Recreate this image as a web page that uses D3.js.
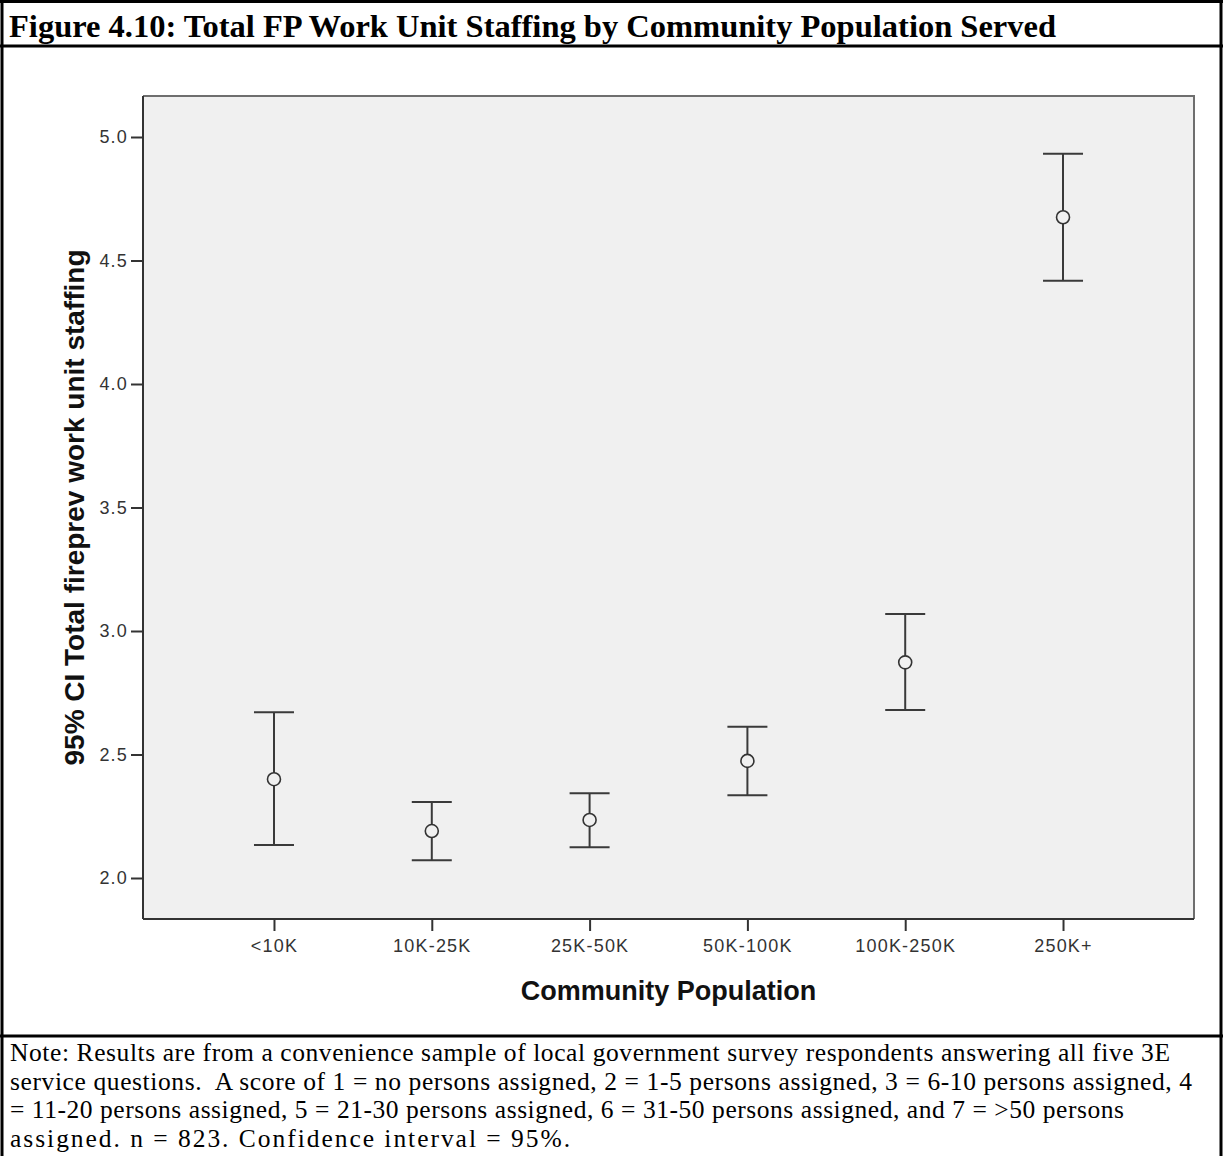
<!DOCTYPE html>
<html>
<head>
<meta charset="utf-8">
<script src="https://cdn.jsdelivr.net/npm/d3@7"></script>
<style>
  body { margin: 0; background: #fff; }
  svg { display: block; }
</style>
</head>
<body>
<script>
// Figure 4.10 - error bar chart (95% CI), one bar per population group

var categories = ["<10K", "10K-25K", "25K-50K", "50K-100K", "100K-250K", "250K+"];
var means = [2.40, 2.19, 2.235, 2.474, 2.873, 4.675];
var lower = [2.134, 2.072, 2.124, 2.335, 2.680, 4.418];
var upper = [2.671, 2.308, 2.343, 2.612, 3.069, 4.932];
var yTicks = [2.0, 2.5, 3.0, 3.5, 4.0, 4.5, 5.0];

var title = "Figure 4.10: Total FP Work Unit Staffing by Community Population Served";
var noteLines = [
  "Note: Results are from a convenience sample of local government survey respondents answering all five 3E",
  "service questions.\u00a0 A score of 1 = no persons assigned, 2 = 1-5 persons assigned, 3 = 6-10 persons assigned, 4",
  "= 11-20 persons assigned, 5 = 21-30 persons assigned, 6 = 31-50 persons assigned, and 7 = >50 persons",
  "assigned. n = 823. Confidence interval = 95%."
];
// line widths as set in the source document
var noteWidths = [1160, 1182, 1114, 560];

var width = 1223,
    height = 1156,
    plot = {left: 143, right: 1194, top: 96, bottom: 919};

var svg = d3.select("body").append("svg")
    .attr("width", width)
    .attr("height", height);

// outer table frame
svg.append("rect").attr("width", width).attr("height", height).attr("fill", "#fff");
[[2, 0, 2, height], [1221, 0, 1221, height], [0, 1.5, width, 1.5], [0, 46, width, 46], [0, 1036, width, 1036]]
  .forEach(function(l) {
    svg.append("line")
      .attr("x1", l[0]).attr("y1", l[1]).attr("x2", l[2]).attr("y2", l[3])
      .attr("stroke", "#000").attr("stroke-width", 3);
  });

svg.append("text")
    .attr("x", 9).attr("y", 37)
    .style("font-family", "'Liberation Serif', 'Times New Roman', serif")
    .style("font-weight", "bold")
    .style("font-size", "32.5px")
    .text(title);

var x = d3.scalePoint()
    .domain(categories)
    .range([plot.left, plot.right])
    .padding(0.83);

var y = d3.scaleLinear()
    .domain([1.834, 5.166])
    .range([plot.bottom, plot.top]);

// plot background + top/right frame
svg.append("rect")
    .attr("x", plot.left).attr("y", plot.top)
    .attr("width", plot.right - plot.left).attr("height", plot.bottom - plot.top)
    .attr("fill", "#f0f0f0");
svg.append("path")
    .attr("d", "M" + plot.left + "," + plot.top + "H" + plot.right + "V" + plot.bottom)
    .attr("fill", "none").attr("stroke", "#6e6e6e").attr("stroke-width", 2);

var tickFont = "'Liberation Sans', Arial, sans-serif";

var yAxis = svg.append("g")
    .attr("transform", "translate(" + plot.left + ",0)")
    .call(d3.axisLeft(y).tickValues(yTicks).tickFormat(d3.format(".1f")).tickSize(12).tickPadding(3));

var xAxis = svg.append("g")
    .attr("transform", "translate(0," + plot.bottom + ")")
    .call(d3.axisBottom(x).tickSize(12).tickPadding(8));

[yAxis, xAxis].forEach(function(ax) {
  ax.select(".domain").attr("stroke", "#333").attr("stroke-width", 2);
  ax.selectAll(".tick line").attr("stroke", "#333").attr("stroke-width", 2);
  ax.selectAll(".tick text")
    .attr("fill", "#333")
    .style("font-family", tickFont)
    .style("font-size", "18px")
    .style("letter-spacing", "1.2px");
});
yAxis.select(".domain").attr("d", "M0," + plot.top + "V" + plot.bottom);
xAxis.select(".domain").attr("d", "M" + plot.left + ",0H" + plot.right);

// error bars
var bars = svg.append("g").selectAll("g")
    .data(categories)
    .enter().append("g")
    .attr("transform", function(d) { return "translate(" + x(d) + ",0)"; });

bars.append("line")
    .attr("y1", function(d, i) { return y(upper[i]); })
    .attr("y2", function(d, i) { return y(lower[i]); })
    .attr("stroke", "#3a3a3a").attr("stroke-width", 2);

bars.append("line")
    .attr("x1", -20).attr("x2", 20)
    .attr("y1", function(d, i) { return y(upper[i]); })
    .attr("y2", function(d, i) { return y(upper[i]); })
    .attr("stroke", "#3a3a3a").attr("stroke-width", 2);

bars.append("line")
    .attr("x1", -20).attr("x2", 20)
    .attr("y1", function(d, i) { return y(lower[i]); })
    .attr("y2", function(d, i) { return y(lower[i]); })
    .attr("stroke", "#3a3a3a").attr("stroke-width", 2);

bars.append("circle")
    .attr("cy", function(d, i) { return y(means[i]); })
    .attr("r", 6.5)
    .attr("fill", "#f0f0f0")
    .attr("stroke", "#333").attr("stroke-width", 1.6);

// axis titles
svg.append("text")
    .attr("transform", "translate(84," + (plot.top + plot.bottom) / 2 + ") rotate(-90)")
    .attr("text-anchor", "middle")
    .style("font-family", tickFont)
    .style("font-weight", "bold")
    .style("font-size", "28px")
    .attr("fill", "#111")
    .text("95% CI Total fireprev work unit staffing");

svg.append("text")
    .attr("x", (plot.left + plot.right) / 2).attr("y", 1000)
    .attr("text-anchor", "middle")
    .style("font-family", tickFont)
    .style("font-weight", "bold")
    .style("font-size", "27px")
    .attr("fill", "#111")
    .text("Community Population");

// note under the chart
svg.append("g").selectAll("text")
    .data(noteLines)
    .enter().append("text")
    .attr("x", 10)
    .attr("y", function(d, i) { return 1061 + i * 28.5; })
    .attr("textLength", function(d, i) { return noteWidths[i]; })
    .attr("lengthAdjust", "spacing")
    .style("font-family", "'Liberation Serif', 'Times New Roman', serif")
    .style("font-size", "25.5px")
    .text(function(d) { return d; });
</script>
</body>
</html>
